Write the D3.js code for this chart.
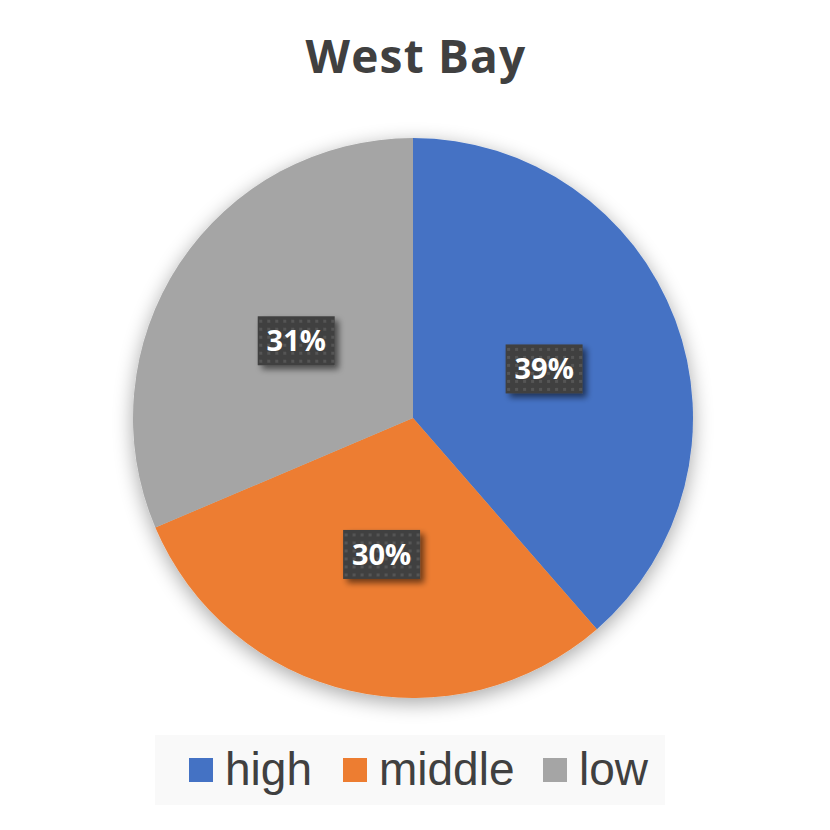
<!DOCTYPE html>
<html><head><meta charset="utf-8">
<script src="https://cdn.jsdelivr.net/npm/d3@7"></script>
<style>body{margin:0;background:#fff}</style>
</head><body>
<script>
const categories = ["high", "middle", "low"];
const values = [38.6, 30.0, 31.4];
const colors = ["#4472C4", "#ED7D31", "#A5A5A5"];
const title = "West Bay";

const W = 830, H = 830;
const svg = d3.select("body").append("svg").attr("width", W).attr("height", H);
const defs = svg.append("defs");

const pieShadow = defs.append("filter").attr("id","pieShadow").attr("x","-20%").attr("y","-20%").attr("width","140%").attr("height","140%");
pieShadow.append("feGaussianBlur").attr("in","SourceAlpha").attr("stdDeviation",10).attr("result","b");
pieShadow.append("feOffset").attr("in","b").attr("dx",0).attr("dy",5).attr("result","o");
pieShadow.append("feComponentTransfer").attr("in","o").attr("result","s").append("feFuncA").attr("type","linear").attr("slope",0.35);
const m1 = pieShadow.append("feMerge"); m1.append("feMergeNode").attr("in","s"); m1.append("feMergeNode").attr("in","SourceGraphic");

const boxShadow = defs.append("filter").attr("id","boxShadow").attr("x","-30%").attr("y","-30%").attr("width","160%").attr("height","160%");
boxShadow.append("feGaussianBlur").attr("in","SourceAlpha").attr("stdDeviation",3).attr("result","b");
boxShadow.append("feOffset").attr("in","b").attr("dx",4).attr("dy",4).attr("result","o");
boxShadow.append("feComponentTransfer").attr("in","o").attr("result","s").append("feFuncA").attr("type","linear").attr("slope",0.55);
const m2 = boxShadow.append("feMerge"); m2.append("feMergeNode").attr("in","s"); m2.append("feMergeNode").attr("in","SourceGraphic");

const pat = defs.append("pattern").attr("id","dots").attr("patternUnits","userSpaceOnUse").attr("width",8).attr("height",8);
pat.append("rect").attr("width",8).attr("height",8).attr("fill","#404040");
pat.append("rect").attr("x",3).attr("y",3).attr("width",3).attr("height",3).attr("fill","#555555");

svg.append("text").attr("x", 416).attr("y", 73).attr("text-anchor","middle")
  .attr("font-family","'Open Sans', sans-serif").attr("font-weight","bold").attr("font-size",46)
  .attr("letter-spacing",1.2)
  .attr("fill","#404040").text(title);

const cx = 413, cy = 418, R = 280;
const total = d3.sum(values);
const pie = d3.pie().sort(null).value(d => d)(values);
const arc = d3.arc().innerRadius(0).outerRadius(R);
const g = svg.append("g").attr("transform",`translate(${cx},${cy})`);
g.append("g").attr("filter","url(#pieShadow)").selectAll("path").data(pie).join("path")
  .attr("d", arc).attr("fill",(d,i)=>colors[i]);

const labArc = d3.arc().innerRadius(R/2).outerRadius(R/2);
const lab = g.selectAll("g.lab").data(pie).join("g").attr("class","lab")
  .attr("transform", d => `translate(${labArc.centroid(d)[0]},${labArc.centroid(d)[1]})`);
lab.append("rect").attr("x",-38.5).attr("y",-24.5).attr("width",77).attr("height",49)
  .attr("fill","url(#dots)").attr("filter","url(#boxShadow)");
lab.append("text").attr("text-anchor","middle").attr("y",10.5)
  .attr("font-family","'Open Sans', sans-serif").attr("font-weight","bold").attr("font-size",29)
  .attr("fill","#fff").text(d => Math.round(d.data / total * 100) + "%");

// legend
svg.append("rect").attr("x",155).attr("y",735).attr("width",510).attr("height",70).attr("fill","#f9f9f9");
const legX = [189, 343, 543];
const leg = svg.selectAll("g.leg").data(categories).join("g").attr("class","leg")
  .attr("transform",(d,i)=>`translate(${legX[i]},758)`);
leg.append("rect").attr("width",24).attr("height",24).attr("fill",(d,i)=>colors[i]);
leg.append("text").attr("x",36).attr("y",27)
  .attr("font-family","'Liberation Sans', Arial, sans-serif").attr("font-size",46)
  .attr("fill","#404040").text(d=>d);
</script>
</body></html>
